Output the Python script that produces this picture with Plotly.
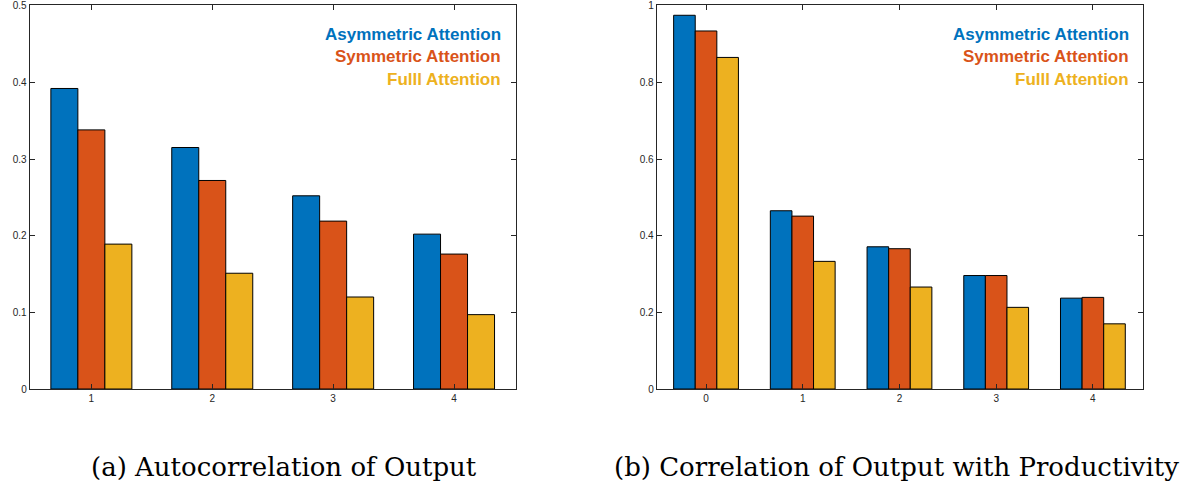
import plotly.graph_objects as go

series_names = ["Asymmetric Attention", "Symmetric Attention", "Fulll Attention"]
series_colors = ["#0072BD", "#D95319", "#EDB120"]

lags_a = [1, 2, 3, 4]
asym_a = [0.392, 0.315, 0.252, 0.202]
sym_a = [0.338, 0.272, 0.219, 0.176]
full_a = [0.189, 0.151, 0.120, 0.097]

lags_b = [0, 1, 2, 3, 4]
asym_b = [0.975, 0.465, 0.371, 0.296, 0.237]
sym_b = [0.934, 0.451, 0.366, 0.296, 0.239]
full_b = [0.865, 0.333, 0.266, 0.213, 0.170]

yticks_a = [0, 0.1, 0.2, 0.3, 0.4, 0.5]
ytick_text_a = ["0", "0.1", "0.2", "0.3", "0.4", "0.5"]
yticks_b = [0, 0.2, 0.4, 0.6, 0.8, 1.0]
ytick_text_b = ["0", "0.2", "0.4", "0.6", "0.8", "1"]

captions = ["(a) Autocorrelation of Output", "(b) Correlation of Output with Productivity"]

W, H = 1191, 488
fig = go.Figure()

for vals, name, col in zip([asym_a, sym_a, full_a], series_names, series_colors):
    fig.add_trace(go.Bar(x=lags_a, y=vals, name=name, marker=dict(color=col, line=dict(color="#000000", width=1)),
                         xaxis="x", yaxis="y", showlegend=False))
for vals, name, col in zip([asym_b, sym_b, full_b], series_names, series_colors):
    fig.add_trace(go.Bar(x=lags_b, y=vals, name=name, marker=dict(color=col, line=dict(color="#000000", width=1)),
                         xaxis="x2", yaxis="y2", showlegend=False))

axis_common = dict(showline=True, linecolor="#262626", linewidth=1, mirror="ticks", ticks="inside",
                   ticklen=5, tickcolor="#262626", showgrid=False, zeroline=False, automargin=False,
                   tickfont=dict(family="Liberation Sans", size=10, color="#262626"))

ybot = 1 - 389 / H
ytop = 1 - 5.3 / H
xa = [29.7 / W, 515.7 / W]
xb = [656.7 / W, 1142.7 / W]

fig.update_layout(
    width=W, height=H, autosize=False, margin=dict(l=0, r=0, t=0, b=0, pad=0),
    paper_bgcolor="white", plot_bgcolor="white",
    barmode="group", bargap=0.33, bargroupgap=0,
    xaxis=dict(domain=xa, range=[0.49, 4.51], tickvals=lags_a, ticktext=[str(v) for v in lags_a], anchor="y", **axis_common),
    yaxis=dict(domain=[ybot, ytop], range=[0, 0.5005], tickvals=yticks_a, ticktext=ytick_text_a, anchor="x", **axis_common),
    xaxis2=dict(domain=xb, range=[-0.51, 4.515], tickvals=lags_b, ticktext=[str(v) for v in lags_b], anchor="y2", **axis_common),
    yaxis2=dict(domain=[ybot, ytop], range=[0, 1.001], tickvals=yticks_b, ticktext=ytick_text_b, anchor="x2", **axis_common),
)

annotations = []
legend_y = [34.3, 56.7, 79.3]
for right_px in [503, 1131]:
    for name, col, ypx in zip(series_names, series_colors, legend_y):
        annotations.append(dict(x=right_px / W, y=1 - ypx / H, xref="paper", yref="paper",
                                text="<b>" + name + "</b>", showarrow=False, xanchor="right", yanchor="middle",
                                font=dict(family="Liberation Sans", size=17, color=col)))
for cx, cap in zip([284, 896], captions):
    annotations.append(dict(x=cx / W, y=1 - 467 / H, xref="paper", yref="paper", text=cap, showarrow=False,
                            xanchor="center", yanchor="middle",
                            font=dict(family="DejaVu Serif", size=26, color="#000000")))
fig.update_layout(annotations=annotations)

fig.write_html("out.html", config={"displayModeBar": False, "responsive": False})
